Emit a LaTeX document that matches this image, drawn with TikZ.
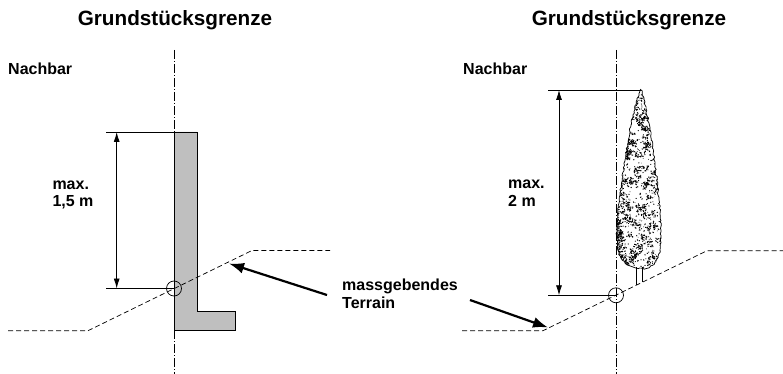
\documentclass[tikz,border=0pt]{standalone}
\usepackage{fontspec}
\setmainfont{Liberation Sans}
\usetikzlibrary{arrows.meta,decorations.pathmorphing}
\begin{document}
\begin{tikzpicture}[x=1pt,y=-1pt,
  grenze/.style={line width=0.7pt, dash pattern=on 9pt off 2pt on 1pt off 2pt},
  terrain/.style={line width=0.7pt, dash pattern=on 5pt off 3pt},
  dimline/.style={line width=0.8pt},
  dimarrow/.style={line width=0.8pt, {Latex[length=10pt,width=6pt]}-{Latex[length=10pt,width=6pt]}},
  pointer/.style={line width=2.2pt, -{Latex[length=15pt,width=11pt]}},
  lbl/.style={font=\bfseries\fontsize{16}{17}\selectfont, inner sep=0pt},
  ttl/.style={font=\bfseries\fontsize{20.7}{22}\selectfont, inner sep=0pt},
  pointmark/.style={circle, draw, line width=0.7pt, minimum size=15pt, inner sep=0pt},
  leaf/.style={line width=0.9pt}]
\useasboundingbox (0,0) rectangle (783,374);
% titles
\node[ttl, anchor=base] (t1) at (175,26) {Grundstücksgrenze};
\node[ttl, anchor=base] (t2) at (629,26) {Grundstücksgrenze};
\node[lbl, anchor=base west] (n1) at (8,75) {Nachbar};
\node[lbl, anchor=base west] (n2) at (463,75) {Nachbar};
% ---------- left: wall ----------
\coordinate (wtl) at (174,132);
\coordinate (wtr) at (197,132);
\filldraw[fill=black!25, line width=0.8pt] (wtl) -- (wtr) -- (197,311) -- (235,311) -- (235,330) -- (174,330) -- cycle;
\draw[terrain] (8,330.7) -- (88,330.7) -- (252,250.5) -- (330,250.5);
\coordinate (g1t) at (174,50);
\coordinate (g1b) at (174,374);
\draw[grenze] (g1t) -- (g1b);
\node[pointmark] (c1) at (174,288.5) {};
\coordinate (d1t) at (106,132);
\coordinate (d1b) at (106,288.5);
\draw[dimline] (d1t) -- (wtl);
\draw[dimline] (d1b) -- (c1.center);
\coordinate (a1t) at (116.7,132);
\coordinate (a1b) at (116.7,288.5);
\draw[dimarrow] (a1t) -- (a1b);
\node[lbl, anchor=base west] (m1a) at (52.3,189.3) {max.};
\node[lbl, anchor=base west] (m1b) at (52.3,206) {1,5 m};
% ---------- labels middle ----------
\node[lbl, anchor=base west] (mg) at (342,290) {massgebendes};
\node[lbl, anchor=base west] (tr) at (342,308) {Terrain};
\coordinate (p1s) at (327,295);
\coordinate (p1e) at (229,263.5);
\coordinate (p2s) at (470,300);
\coordinate (p2e) at (548,327.5);
\draw[pointer] (p1s) -- (p1e);
\draw[pointer] (p2s) -- (p2e);
% ---------- right: tree ----------
\draw[terrain] (462,330.7) -- (543,330.7) -- (707,250.7) -- (783,250.7);
\coordinate (g2t) at (616,50);
\coordinate (g2b) at (616,374);
\draw[grenze] (g2t) -- (g2b);
\node[pointmark] (c2) at (616,295.3) {};
\coordinate (treetop) at (641,90);
\coordinate (d2t) at (548,90);
\coordinate (d2b) at (548,295.3);
\draw[dimline] (d2t) -- (treetop);
\draw[dimline] (d2b) -- (c2.center);
\coordinate (a2t) at (559,90);
\coordinate (a2b) at (559,295.3);
\draw[dimarrow] (a2t) -- (a2b);
\node[lbl, anchor=base west] (m2a) at (508,188.3) {max.};
\node[lbl, anchor=base west] (m2b) at (508,206.7) {2 m};
% tree canopy
\def\treeshape{plot[smooth cycle, tension=0.6] coordinates {(641,90) (645,105) (650,130) (655,165) (659,200) (661,230) (660,250) (655,262) (648,268) (636,268) (625,263) (618,250) (617,225) (620,195) (625,160) (631,125) (637,100)}}
\draw[line width=0.7pt, decorate, decoration={random steps, segment length=2pt, amplitude=0.8pt}] \treeshape;
\begin{scope}
  \clip \treeshape;
  \pgfmathsetseed{4711}
  % scattered specks
  \foreach \i in {1,...,450}{
    \pgfmathsetmacro{\ty}{90+180*rnd}
    \pgfmathsetmacro{\tx}{615+48*rnd}
    \pgfmathsetmacro{\dx}{2.4*rnd-1.2}
    \pgfmathsetmacro{\dy}{2.4*rnd-1.2}
    \draw[leaf] (\tx,\ty) -- ++(\dx,\dy);
  }
  % dark clumps, mostly on the left and upper parts
  \foreach \j in {1,...,170}{
    \pgfmathsetmacro{\cy}{92+175*rnd}
    \pgfmathsetmacro{\cx}{615+44*(rnd^1.8)}
    \foreach \k in {1,...,10}{
      \pgfmathsetmacro{\tx}{\cx+6*rnd-3}
      \pgfmathsetmacro{\ty}{\cy+6*rnd-3}
      \pgfmathsetmacro{\dx}{3*rnd-1.5}
      \pgfmathsetmacro{\dy}{3*rnd-1.5}
      \draw[leaf] (\tx,\ty) -- ++(\dx,\dy);
    }
  }
\end{scope}
% trunk
\coordinate (tk1t) at (636,267);
\coordinate (tk1b) at (636,285.3);
\coordinate (tk2t) at (642,267);
\coordinate (tk2b) at (642,282.4);
\draw[line width=0.7pt] (tk1t) -- (tk1b);
\draw[line width=0.7pt] (tk2t) -- (tk2b);
\end{tikzpicture}
\end{document}
